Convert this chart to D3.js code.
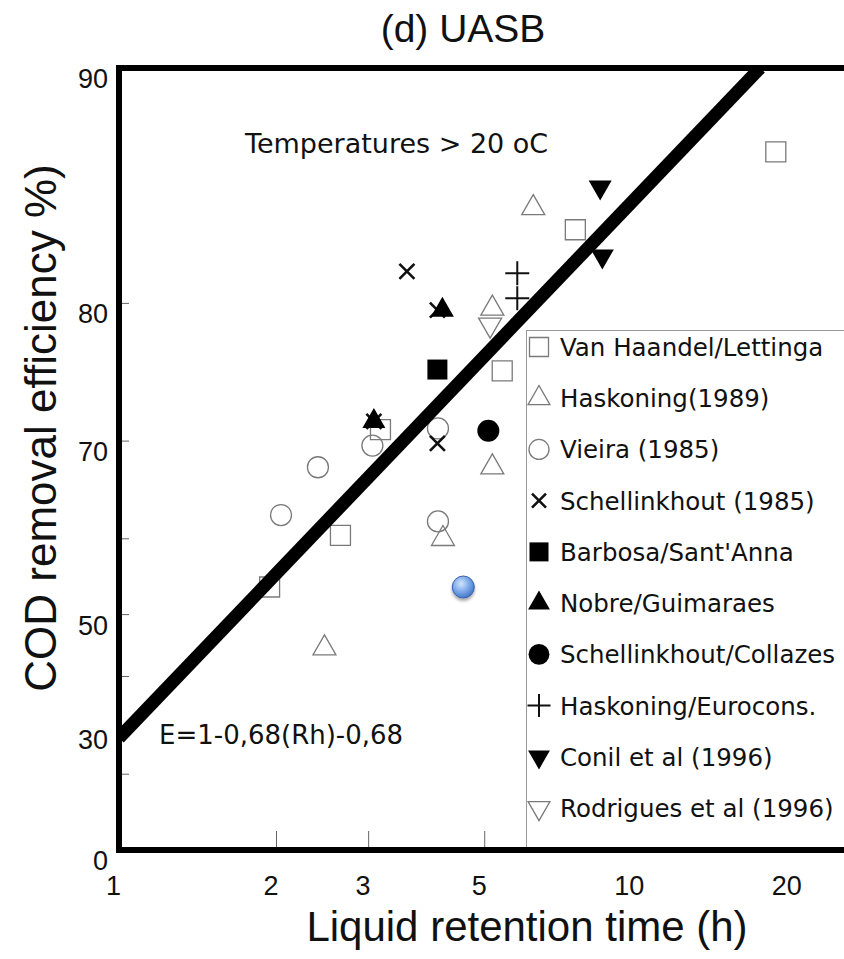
<!DOCTYPE html>
<html>
<head>
<meta charset="utf-8">
<style>
  body { margin: 0; background: #fff; }
  svg { display: block; }
</style>
</head>
<body>
<script src="https://cdn.jsdelivr.net/npm/d3@7/dist/d3.min.js"></script>
<script>

  // legend categories, in drawing order
  var series = ["Van Haandel/Lettinga", "Haskoning(1989)", "Vieira (1985)", "Schellinkhout (1985)",
    "Barbosa/Sant'Anna", "Nobre/Guimaraes", "Schellinkhout/Collazes", "Haskoning/Eurocons.",
    "Conil et al (1996)", "Rodrigues et al (1996)"];

  // [retention time h, COD removal %]
  var vanHaandel = [[18.0, 87.2], [7.45, 83.9], [5.40, 75.6], [3.16, 71.0], [2.65, 60.4], [1.94, 53.9]];
  var haskoning89 = [[6.19, 84.9], [5.17, 79.7], [5.17, 67.6], [4.16, 60.0], [2.47, 44.8]];
  var vieira = [[2.04, 62.7], [2.40, 67.6], [3.05, 69.6], [4.07, 71.1], [4.07, 62.0]];
  var schellinkhout85 = [[3.55, 81.8], [4.06, 79.6], [4.06, 69.8], [3.07, 71.7]];
  var barbosa = [[4.06, 75.7]];
  var nobre = [[4.15, 79.6], [3.07, 71.7]];
  var collazes = [[5.08, 70.9]];
  var eurocons = [[5.77, 81.7], [5.77, 80.3]];
  var conil = [[8.31, 85.8], [8.39, 82.6]];
  var rodrigues = [[5.12, 78.7]];
  var highlight = [[4.55, 53.9]];

  // fitted curve E = 1 - 0.68 Rh^-0.68, end points
  var fitLine = [[1, 28.1], [16.8, 90]];

  var xTicks = [1, 2, 3, 5, 10, 20];
  var yTicks = [0, 20, 30, 40, 50, 60, 70, 80, 90];
  var yTickLabels = [0, 30, 50, 70, 80, 90];

  var width = 844, height = 959;
  var plotLeft = 119, plotBottom = 850, plotTop = 68;

  var svg = d3.select("body").append("svg")
    .attr("width", width)
    .attr("height", height);

  var defs = svg.append("defs");
  var grad = defs.append("radialGradient").attr("id", "blue")
    .attr("cx", "40%").attr("cy", "35%").attr("r", "70%");
  grad.append("stop").attr("offset", "0%").attr("stop-color", "#d2e4fb");
  grad.append("stop").attr("offset", "55%").attr("stop-color", "#77a6e8");
  grad.append("stop").attr("offset", "100%").attr("stop-color", "#3f6fc2");
  var shadow = defs.append("filter").attr("id", "shadow")
    .attr("x", "-50%").attr("y", "-50%").attr("width", "200%").attr("height", "200%");
  shadow.append("feDropShadow").attr("dx", 0).attr("dy", 2.5)
    .attr("stdDeviation", 1.5).attr("flood-opacity", 0.35);
  defs.append("clipPath").attr("id", "plot")
    .append("rect").attr("x", plotLeft).attr("y", plotTop)
    .attr("width", width - plotLeft).attr("height", plotBottom - plotTop);

  // log time axis
  var x = d3.scaleLog().domain([1, 24.3]).range([plotLeft, width]);
  // efficiency axis: log of 1/(1 - E)
  var yLog = d3.scaleLog().domain([1, 10]).range([plotBottom, plotTop]);
  var y = function (e) { return yLog(100 / (100 - e)); };

  // marker shapes
  var shapes = {
    square: function (s) { return "M" + (-s / 2) + "," + (-s / 2) + "h" + s + "v" + s + "h" + (-s) + "Z"; },
    triUp: function (s) { var h = s * 0.87; return "M0," + (-2 * h / 3) + "L" + (s / 2) + "," + (h / 3) + "L" + (-s / 2) + "," + (h / 3) + "Z"; },
    triDown: function (s) { var h = s * 0.87; return "M0," + (2 * h / 3) + "L" + (s / 2) + "," + (-h / 3) + "L" + (-s / 2) + "," + (-h / 3) + "Z"; },
    circle: function (s) { var r = s / 2; return "M" + r + ",0A" + r + "," + r + " 0 1,1 " + (-r) + ",0A" + r + "," + r + " 0 1,1 " + r + ",0Z"; },
    cross: function (s) { return "M" + (-s / 2) + "," + (-s / 2) + "L" + (s / 2) + "," + (s / 2) + "M" + (s / 2) + "," + (-s / 2) + "L" + (-s / 2) + "," + (s / 2); },
    plus: function (s) { return "M" + (-s / 2) + ",0H" + (s / 2) + "M0," + (-s / 2) + "V" + (s / 2); }
  };

  var styles = [
    { data: vanHaandel, shape: "square", size: 20, fill: "none", stroke: "#7a7a7a", sw: 1.3 },
    { data: haskoning89, shape: "triUp", size: 23, fill: "none", stroke: "#7a7a7a", sw: 1.3 },
    { data: vieira, shape: "circle", size: 21, fill: "none", stroke: "#7a7a7a", sw: 1.3 },
    { data: schellinkhout85, shape: "cross", size: 15, fill: "none", stroke: "#111", sw: 2.6 },
    { data: barbosa, shape: "square", size: 20, fill: "#000", stroke: "none", sw: 0 },
    { data: nobre, shape: "triUp", size: 23, fill: "#000", stroke: "none", sw: 0 },
    { data: collazes, shape: "circle", size: 22, fill: "#000", stroke: "none", sw: 0 },
    { data: eurocons, shape: "plus", size: 24, fill: "none", stroke: "#111", sw: 2 },
    { data: conil, shape: "triDown", size: 23, fill: "#000", stroke: "none", sw: 0 },
    { data: rodrigues, shape: "triDown", size: 23, fill: "none", stroke: "#7a7a7a", sw: 1.3 }
  ];

  var helv = "'Liberation Sans', Arial, sans-serif";
  var lucida = "'DejaVu Sans', sans-serif";

  // title and axis titles
  svg.append("text")
    .attr("x", 463).attr("y", 42)
    .attr("text-anchor", "middle")
    .attr("font-family", helv).attr("font-size", 39)
    .attr("fill", "#111")
    .text("(d) UASB");

  svg.append("text")
    .attr("x", 527).attr("y", 941)
    .attr("text-anchor", "middle")
    .attr("font-family", helv).attr("font-size", 42)
    .attr("fill", "#111")
    .text("Liquid retention time (h)");

  svg.append("text")
    .attr("transform", "translate(56,428) rotate(-90)")
    .attr("text-anchor", "middle")
    .attr("font-family", helv).attr("font-size", 44)
    .attr("fill", "#111")
    .text("COD removal efficiency %)");

  // ticks
  svg.selectAll(".ytick").data(yTicks).enter().append("line")
    .attr("x1", plotLeft).attr("x2", plotLeft + 10)
    .attr("y1", function (d) { return y(d); })
    .attr("y2", function (d) { return y(d); })
    .attr("stroke", "#666").attr("stroke-width", 1);

  svg.selectAll(".xtick").data(xTicks.slice(1)).enter().append("line")
    .attr("x1", function (d) { return x(d); })
    .attr("x2", function (d) { return x(d); })
    .attr("y1", plotBottom).attr("y2", plotBottom - 19)
    .attr("stroke", "#666").attr("stroke-width", 1);

  // y labels hang just below their ticks
  svg.selectAll(".ylab").data(yTickLabels).enter().append("text")
    .attr("x", 108)
    .attr("y", function (d) { return y(d) + 20; })
    .attr("text-anchor", "end")
    .attr("font-family", helv).attr("font-size", 27)
    .attr("fill", "#111")
    .text(function (d) { return d; });

  svg.selectAll(".xlab").data(xTicks).enter().append("text")
    .attr("x", function (d) { return x(d) + 2; })
    .attr("y", 895)
    .attr("text-anchor", "end")
    .attr("font-family", helv).attr("font-size", 27)
    .attr("fill", "#111")
    .text(function (d) { return d; });

  // legend box
  var legend = svg.append("g");
  legend.append("rect")
    .attr("x", 526.5).attr("y", 330.5)
    .attr("width", 400).attr("height", plotBottom - 330)
    .attr("fill", "#fff").attr("stroke", "#999").attr("stroke-width", 1);

  var ly = d3.scalePoint().domain(series).range([347, 808]);
  series.forEach(function (name, i) {
    var st = styles[i];
    var s = st.shape == "plus" ? 23 : st.shape == "cross" ? 14 : st.size * 0.95;
    legend.append("path")
      .attr("transform", "translate(" + 539 + "," + ly(name) + ")")
      .attr("d", shapes[st.shape](s))
      .attr("fill", st.fill).attr("stroke", st.stroke).attr("stroke-width", st.sw);
    legend.append("text")
      .attr("x", 560).attr("y", ly(name) + 9)
      .attr("font-family", lucida)
      .attr("font-size", 24.5)
      .attr("fill", "#111")
      .text(name);
  });

  // data points
  var plot = svg.append("g").attr("clip-path", "url(#plot)");
  styles.forEach(function (st) {
    plot.selectAll(null).data(st.data).enter().append("path")
      .attr("transform", function (d) { return "translate(" + x(d[0]) + "," + y(d[1]) + ")"; })
      .attr("d", shapes[st.shape](st.size))
      .attr("fill", st.fill).attr("stroke", st.stroke).attr("stroke-width", st.sw);
  });

  plot.selectAll(".hl").data(highlight).enter().append("circle")
    .attr("cx", function (d) { return x(d[0]); })
    .attr("cy", function (d) { return y(d[1]); })
    .attr("r", 11)
    .attr("fill", "url(#blue)")
    .attr("stroke", "#3a63ad").attr("stroke-width", 1)
    .attr("filter", "url(#shadow)");

  // regression line
  var line = d3.line()
    .x(function (d) { return x(d[0]); })
    .y(function (d) { return y(d[1]); });
  plot.append("path")
    .attr("d", line(fitLine))
    .attr("fill", "none").attr("stroke", "#000").attr("stroke-width", 13);

  // annotations
  svg.append("text")
    .attr("x", 245).attr("y", 153)
    .attr("font-family", lucida).attr("font-size", 27)
    .attr("fill", "#111")
    .text("Temperatures > 20 oC");
  svg.append("text")
    .attr("x", 159).attr("y", 744)
    .attr("font-family", lucida).attr("font-size", 26)
    .attr("fill", "#111")
    .text("E=1-0,68(Rh)-0,68");

  // frame
  svg.append("path")
    .attr("d", "M" + width + "," + plotTop + "H" + plotLeft + "V" + plotBottom + "H" + width)
    .attr("fill", "none").attr("stroke", "#000").attr("stroke-width", 6);

</script>
</body>
</html>
